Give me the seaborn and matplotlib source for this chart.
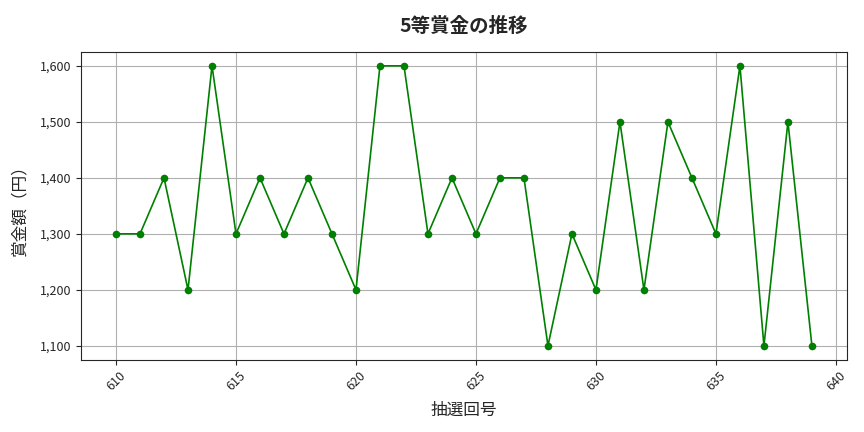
import matplotlib
matplotlib.use("Agg")
import matplotlib.pyplot as plt
import matplotlib.ticker as mticker
import seaborn as sns
import pandas as pd

# 抽選回号と5等賞金（円）
draws = list(range(610, 640))
prizes = [1300, 1300, 1400, 1200, 1600, 1300, 1400, 1300, 1400, 1300,
          1200, 1600, 1600, 1300, 1400, 1300, 1400, 1400, 1100, 1300,
          1200, 1500, 1200, 1500, 1400, 1300, 1600, 1100, 1500, 1100]

df = pd.DataFrame({'draw': draws, 'prize': prizes})

sns.set_style('ticks')
plt.rcParams['font.family'] = ['Noto Sans CJK JP', 'DejaVu Sans']

fig, ax = plt.subplots(figsize=(8.64, 4.32), dpi=100)
sns.lineplot(data=df, x='draw', y='prize', color='green', marker='o',
             markersize=5.5, markeredgewidth=0, linewidth=1.2, ax=ax)

ax.set_title('5等賞金の推移', fontsize=14, fontweight='bold', pad=14)
ax.set_xlabel('抽選回号', fontsize=12, labelpad=6)
ax.set_ylabel('賞金額（円）', fontsize=12, labelpad=8)
ax.yaxis.set_major_formatter(mticker.FuncFormatter(lambda v, p: f'{int(v):,}'))
ax.tick_params(axis='both', labelsize=9)
plt.setp(ax.get_xticklabels(), rotation=45)
ax.grid(True, color='#b0b0b0', linewidth=0.8)

fig.subplots_adjust(left=0.094, right=0.980, top=0.880, bottom=0.167)
plt.savefig('out.png', dpi=100)
plt.close()
